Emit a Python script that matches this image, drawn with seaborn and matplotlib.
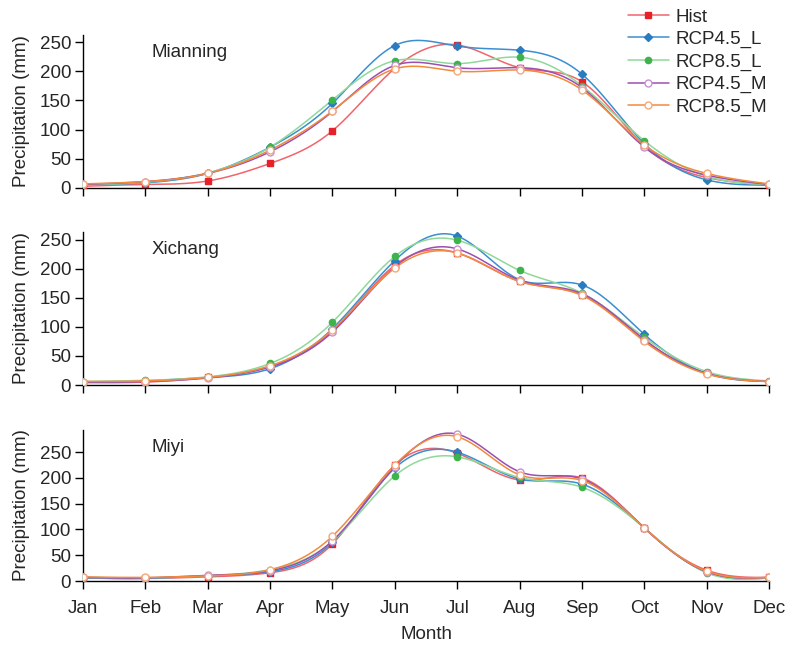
import numpy as np
import pandas as pd
import matplotlib
matplotlib.use("Agg")
import matplotlib.pyplot as plt
import seaborn as sns
from matplotlib.lines import Line2D

months = ["Jan", "Feb", "Mar", "Apr", "May", "Jun", "Jul", "Aug", "Sep", "Oct", "Nov", "Dec"]
series = ["Hist", "RCP4.5_L", "RCP8.5_L", "RCP4.5_M", "RCP8.5_M"]
stations = ["Mianning", "Xichang", "Miyi"]

# Mianning
mian_hist = [3, 6, 12, 42, 98, 205, 245, 206, 182, 72, 18, 5]
mian_r45l = [5, 9, 25, 70, 145, 244, 243, 236, 195, 76, 14, 5]
mian_r85l = [5, 10, 26, 70, 151, 218, 213, 224, 175, 81, 20, 6]
mian_r45m = [6, 11, 25, 62, 131, 210, 206, 206, 172, 70, 22, 6]
mian_r85m = [7, 11, 25, 65, 132, 204, 200, 202, 168, 74, 25, 7]

# Xichang
xich_hist = [4, 5, 13, 32, 93, 206, 227, 178, 155, 78, 20, 6]
xich_r45l = [5, 7, 13, 28, 97, 214, 256, 181, 172, 87, 20, 6]
xich_r85l = [6, 8, 14, 37, 108, 221, 249, 197, 158, 82, 23, 7]
xich_r45m = [5, 6, 12, 31, 91, 203, 234, 180, 157, 78, 20, 6]
xich_r85m = [6, 7, 13, 33, 95, 201, 227, 178, 154, 75, 19, 6]

# Miyi
miyi_hist = [6, 5, 8, 16, 72, 225, 248, 196, 200, 103, 21, 7]
miyi_r45l = [6, 5, 10, 18, 75, 219, 250, 198, 188, 103, 17, 6]
miyi_r85l = [7, 6, 10, 22, 77, 204, 241, 201, 182, 103, 16, 6]
miyi_r45m = [7, 6, 11, 20, 78, 222, 285, 212, 198, 103, 18, 7]
miyi_r85m = [8, 7, 10, 22, 87, 225, 280, 206, 195, 103, 19, 7]

panel_data = {
    "Mianning": [mian_hist, mian_r45l, mian_r85l, mian_r45m, mian_r85m],
    "Xichang": [xich_hist, xich_r45l, xich_r85l, xich_r45m, xich_r85m],
    "Miyi": [miyi_hist, miyi_r45l, miyi_r85l, miyi_r45m, miyi_r85m],
}
ylims = {"Mianning": 262, "Xichang": 263, "Miyi": 293}

line_colors = ["#f0646c", "#3a8fd0", "#8fd89a", "#9b4fb0", "#f28a3c"]
marker_face = ["#e8202a", "#2a7cc0", "#3cb44a", "white", "white"]
marker_edge = ["#e8202a", "#2a7cc0", "#3cb44a", "#c98fd6", "#f5a878"]
markers = ["s", "D", "o", "o", "o"]
msizes = [4.0, 4.0, 4.5, 5.0, 5.0]


def natural_spline(x, y, n=400):
    x = np.asarray(x, float)
    y = np.asarray(y, float)
    k = len(x)
    h = np.diff(x)
    A = np.zeros((k, k))
    b = np.zeros(k)
    A[0, 0] = 1
    A[-1, -1] = 1
    for i in range(1, k - 1):
        A[i, i - 1] = h[i - 1]
        A[i, i] = 2 * (h[i - 1] + h[i])
        A[i, i + 1] = h[i]
        b[i] = 3 * ((y[i + 1] - y[i]) / h[i] - (y[i] - y[i - 1]) / h[i - 1])
    c = np.linalg.solve(A, b)
    xs = np.linspace(x[0], x[-1], n)
    idx = np.clip(np.searchsorted(x, xs) - 1, 0, k - 2)
    dx = xs - x[idx]
    bb = (y[idx + 1] - y[idx]) / h[idx] - h[idx] * (2 * c[idx] + c[idx + 1]) / 3
    d = (c[idx + 1] - c[idx]) / (3 * h[idx])
    ys = y[idx] + bb * dx + c[idx] * dx ** 2 + d * dx ** 3
    return xs, ys


sns.set_style("white")
plt.rcParams["font.family"] = ["Liberation Sans", "DejaVu Sans"]
FS = 13.5
plt.rcParams["font.size"] = FS

fig = plt.figure(figsize=(7.86, 6.48), dpi=100)
left, width = 83 / 786, (769 - 83) / 786
boxes = [(35, 188), (232, 385), (430, 581)]
xpos = np.arange(12)

for pi, st in enumerate(stations):
    top, bot = boxes[pi]
    ax = fig.add_axes([left, 1 - bot / 648, width, (bot - top) / 648])
    for si, s in enumerate(series):
        vals = panel_data[st][si]
        xs, ys = natural_spline(xpos, vals)
        sns.lineplot(x=xs, y=ys, ax=ax, color=line_colors[si], lw=1.1, zorder=2 + si)
        sns.lineplot(x=xpos, y=vals, ax=ax, color=line_colors[si], lw=0, marker=markers[si],
                     markersize=msizes[si], markerfacecolor=marker_face[si],
                     markeredgecolor=marker_edge[si], markeredgewidth=1.0, zorder=10 + si)
    ax.set_xlim(0, 11)
    ax.set_ylim(0, ylims[st])
    ax.set_yticks([0, 50, 100, 150, 200, 250])
    ax.set_xticks(xpos)
    if pi == 2:
        ax.set_xticklabels(months)
        ax.set_xlabel("Month", fontsize=FS, labelpad=7)
    else:
        ax.set_xticklabels([])
        ax.set_xlabel("")
    ax.set_ylabel("Precipitation (mm)", fontsize=FS, labelpad=7)
    for sp in ["top", "right"]:
        ax.spines[sp].set_visible(False)
    for sp in ["left", "bottom"]:
        ax.spines[sp].set_color("black")
        ax.spines[sp].set_linewidth(1.0)
    ax.tick_params(axis="both", direction="out", length=5.5, width=1, color="black",
                   labelsize=FS, bottom=True, left=True, pad=3)
    ax.tick_params(axis="x", pad=8)
    ax.text(0.1, 0.94, st, transform=ax.transAxes, fontsize=FS, va="top", ha="left")

handles = []
for si, s in enumerate(series):
    handles.append(Line2D([0], [0], color=line_colors[si], lw=1.1, marker=markers[si],
                          markersize=msizes[si], markerfacecolor=marker_face[si],
                          markeredgecolor=marker_edge[si], markeredgewidth=1.0, label=s))
fig.legend(handles=handles, loc="upper right", bbox_to_anchor=(0.995, 1.01), frameon=False,
           fontsize=FS, handlelength=2.2, labelspacing=0.28, handletextpad=0.35, borderpad=0.3)

fig.savefig("out.png", dpi=100)
